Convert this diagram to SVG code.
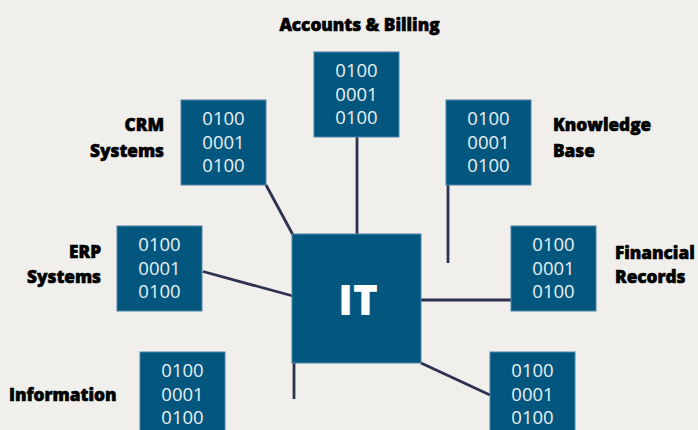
<svg xmlns="http://www.w3.org/2000/svg" width="698" height="430" viewBox="0 0 698 430">
  <style>
    .box { fill: #03577f; stroke: #4a86a8; stroke-width: 1; }
    .bits { fill: #e9f0f4; font-family: "Open Sans", "Noto Sans", sans-serif; font-size: 18.5px; text-anchor: middle; }
    .label { fill: #000000; stroke: #000000; stroke-width: 0.6; font-family: "Open Sans", "Liberation Sans", sans-serif; font-size: 17.2px; font-weight: 800; }
    .hub { fill: #ffffff; font-family: "Open Sans", "Liberation Sans", sans-serif; font-size: 42px; font-weight: 800; text-anchor: middle; }
    .link { stroke: #2e3150; stroke-width: 2.8; fill: none; }
  </style>
  <defs>
    <g id="data-block">
      <rect class="box" x="0" y="0" width="85" height="85"/>
      <text class="bits" x="42.5" y="25">0100</text>
      <text class="bits" x="42.5" y="48.5">0001</text>
      <text class="bits" x="42.5" y="72">0100</text>
    </g>
  </defs>

  <rect x="0" y="0" width="698" height="430" fill="#f0efec"/>

  <!-- connectors -->
  <g id="connectors">
    <line class="link" x1="357" y1="137" x2="357" y2="234"/>
    <line class="link" x1="266" y1="185" x2="293" y2="235"/>
    <line class="link" x1="448" y1="185" x2="448" y2="263"/>
    <line class="link" x1="203" y1="271.5" x2="293" y2="296"/>
    <line class="link" x1="421" y1="300" x2="511" y2="300"/>
    <line class="link" x1="294" y1="363" x2="294" y2="399"/>
    <line class="link" x1="421" y1="363" x2="490" y2="395"/>
  </g>

  <!-- central hub -->
  <g id="it">
    <rect class="box" x="292" y="234" width="129" height="129"/>
    <text class="hub" x="358" y="315">IT</text>
  </g>

  <g id="accounts-billing">
    <use href="#data-block" x="314" y="52"/>
    <text class="label" x="359.5" y="31" text-anchor="middle">Accounts &amp; Billing</text>
  </g>

  <g id="crm-systems">
    <use href="#data-block" x="181" y="100"/>
    <text class="label" x="164" y="131" text-anchor="end">CRM</text>
    <text class="label" x="164" y="157" text-anchor="end">Systems</text>
  </g>

  <g id="knowledge-base">
    <use href="#data-block" x="446" y="100"/>
    <text class="label" x="553" y="131">Knowledge</text>
    <text class="label" x="553" y="157">Base</text>
  </g>

  <g id="erp-systems">
    <use href="#data-block" x="117" y="226"/>
    <text class="label" x="101" y="257.5" text-anchor="end">ERP</text>
    <text class="label" x="101" y="283" text-anchor="end">Systems</text>
  </g>

  <g id="financial-records">
    <use href="#data-block" x="511" y="226"/>
    <text class="label" x="615" y="259">Financial</text>
    <text class="label" x="615" y="283">Records</text>
  </g>

  <g id="information">
    <use href="#data-block" x="140" y="352"/>
    <text class="label" x="9" y="401">Information</text>
  </g>

  <g id="records-lower">
    <use href="#data-block" x="490" y="352"/>
  </g>
</svg>
